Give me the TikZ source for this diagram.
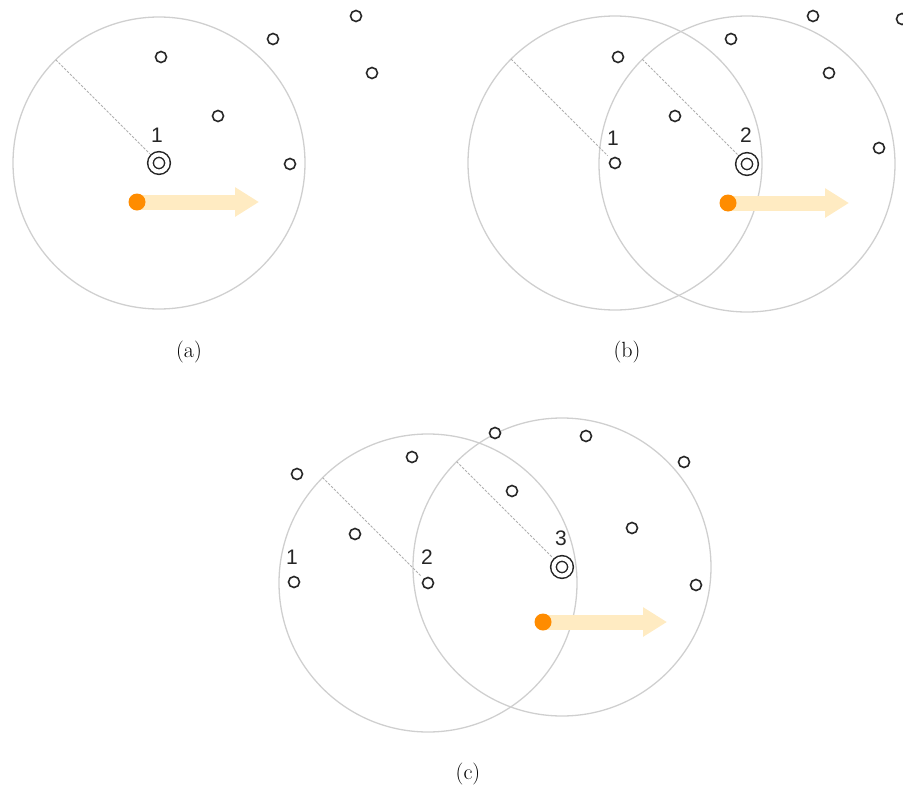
\documentclass[tikz,border=0pt]{standalone}
\usepackage{fontspec}
\newfontfamily\lblfont{Liberation Sans}
\usetikzlibrary{arrows.meta,calc}
\definecolor{rangec}{HTML}{CFCFCF}
\definecolor{ptc}{HTML}{262626}
\definecolor{dashc}{HTML}{AFAFAF}
\definecolor{orangec}{HTML}{FF8C00}
\definecolor{arrowc}{HTML}{FFEBC2}
\begin{document}
\begin{tikzpicture}[x=1pt,y=-1pt,
  samplept/.style={circle,draw=ptc,fill=white,line width=1.6pt,minimum size=11pt,inner sep=0pt},
  target/.style={circle,draw=ptc,line width=1.5pt,double=white,double distance=4.1pt,minimum size=17pt,inner sep=0pt},
  rangecirc/.style={draw=rangec,line width=1.3pt},
  radline/.style={draw=dashc,line width=0.9pt,dash pattern=on 2.5pt off 1.5pt,shorten >=4pt},
  movearrow/.style={draw=arrowc,line width=15pt,-{Triangle[length=24pt,width=28pt]}},
  cardot/.style={circle,fill=orangec,minimum size=17pt,inner sep=0pt},
  ptlabel/.style={font=\lblfont\fontsize{21}{24}\selectfont,text=ptc,inner sep=0pt},
  subcap/.style={font=\fontsize{22}{26}\selectfont,inner sep=0pt}
]
\useasboundingbox (0,0) rectangle (903,798);

% ---------------- panel (a)
\coordinate (Ac) at (159,163);
\draw[rangecirc] (Ac) circle[radius=146pt];
\coordinate (Ar) at ($(Ac)+(135:146pt)$);
\coordinate (Adc) at (137,202);
\coordinate (Atip) at (259,202);
\draw[movearrow] (Adc) -- (Atip);
\node[cardot] (Adot) at (Adc) {};
\node[samplept] (Ap1) at (161,57) {};
\node[samplept] (Ap2) at (273,39) {};
\node[samplept] (Ap3) at (356,16) {};
\node[samplept] (Ap4) at (372,73) {};
\node[samplept] (Ap5) at (218,116) {};
\node[samplept] (Ap6) at (290,164) {};
\node[target] (At) at (Ac) {};
\draw[radline] (Ar) -- (At);
\node[ptlabel] (Al1) at (157,135) {1};
\node[subcap] (Acap) at (189,352) {(a)};

% ---------------- panel (b)
\coordinate (Bc1) at (615,163);
\coordinate (Bc2) at (747,164);
\draw[rangecirc] (Bc1) circle[radius=147pt];
\draw[rangecirc] (Bc2) circle[radius=148pt];
\coordinate (Br1) at ($(Bc1)+(135:147pt)$);
\coordinate (Br2) at ($(Bc2)+(135:148pt)$);
\coordinate (Bdc) at (728,203);
\coordinate (Btip) at (849,203);
\draw[movearrow] (Bdc) -- (Btip);
\node[cardot] (Bdot) at (Bdc) {};
\node[samplept] (B1) at (Bc1) {};
\node[samplept] (Bp1) at (618,57) {};
\node[samplept] (Bp2) at (731,39) {};
\node[samplept] (Bp3) at (813,16) {};
\node[samplept] (Bp4) at (829,73) {};
\node[samplept] (Bp5) at (675,116) {};
\node[samplept] (Bp6) at (879,148) {};
\node[samplept] (Bp7) at (902,19) {};
\node[target] (Bt) at (Bc2) {};
\draw[radline] (Br1) -- (B1);
\draw[radline] (Br2) -- (Bt);
\node[ptlabel] (Bl1) at (613,138) {1};
\node[ptlabel] (Bl2) at (746,135) {2};
\node[subcap] (Bcap) at (627,352) {(b)};

% ---------------- panel (c)
\coordinate (Cc1) at (294,582);
\coordinate (Cc2) at (428,583);
\coordinate (Cc3) at (562,567);
\draw[rangecirc] (Cc2) circle[radius=149pt];
\draw[rangecirc] (Cc3) circle[radius=149pt];
\coordinate (Cr2) at ($(Cc2)+(135:149pt)$);
\coordinate (Cr3) at ($(Cc3)+(135:149pt)$);
\coordinate (Cdc) at (543,622);
\coordinate (Ctip) at (667,622);
\draw[movearrow] (Cdc) -- (Ctip);
\node[cardot] (Cdot) at (Cdc) {};
\node[samplept] (C1) at (Cc1) {};
\node[samplept] (C2) at (Cc2) {};
\node[samplept] (Cp1) at (297,474) {};
\node[samplept] (Cp2) at (412,457) {};
\node[samplept] (Cp3) at (355,534) {};
\node[samplept] (Cp4) at (495,433) {};
\node[samplept] (Cp5) at (512,491) {};
\node[samplept] (Cp6) at (586,436) {};
\node[samplept] (Cp7) at (684,462) {};
\node[samplept] (Cp8) at (632,528) {};
\node[samplept] (Cp9) at (696,585) {};
\node[target] (Ct) at (Cc3) {};
\draw[radline] (Cr2) -- (C2);
\draw[radline] (Cr3) -- (Ct);
\node[ptlabel] (Cl1) at (292,557) {1};
\node[ptlabel] (Cl2) at (427,557) {2};
\node[ptlabel] (Cl3) at (561,538) {3};
\node[subcap] (Ccap) at (468,774) {(c)};
\end{tikzpicture}
\end{document}
